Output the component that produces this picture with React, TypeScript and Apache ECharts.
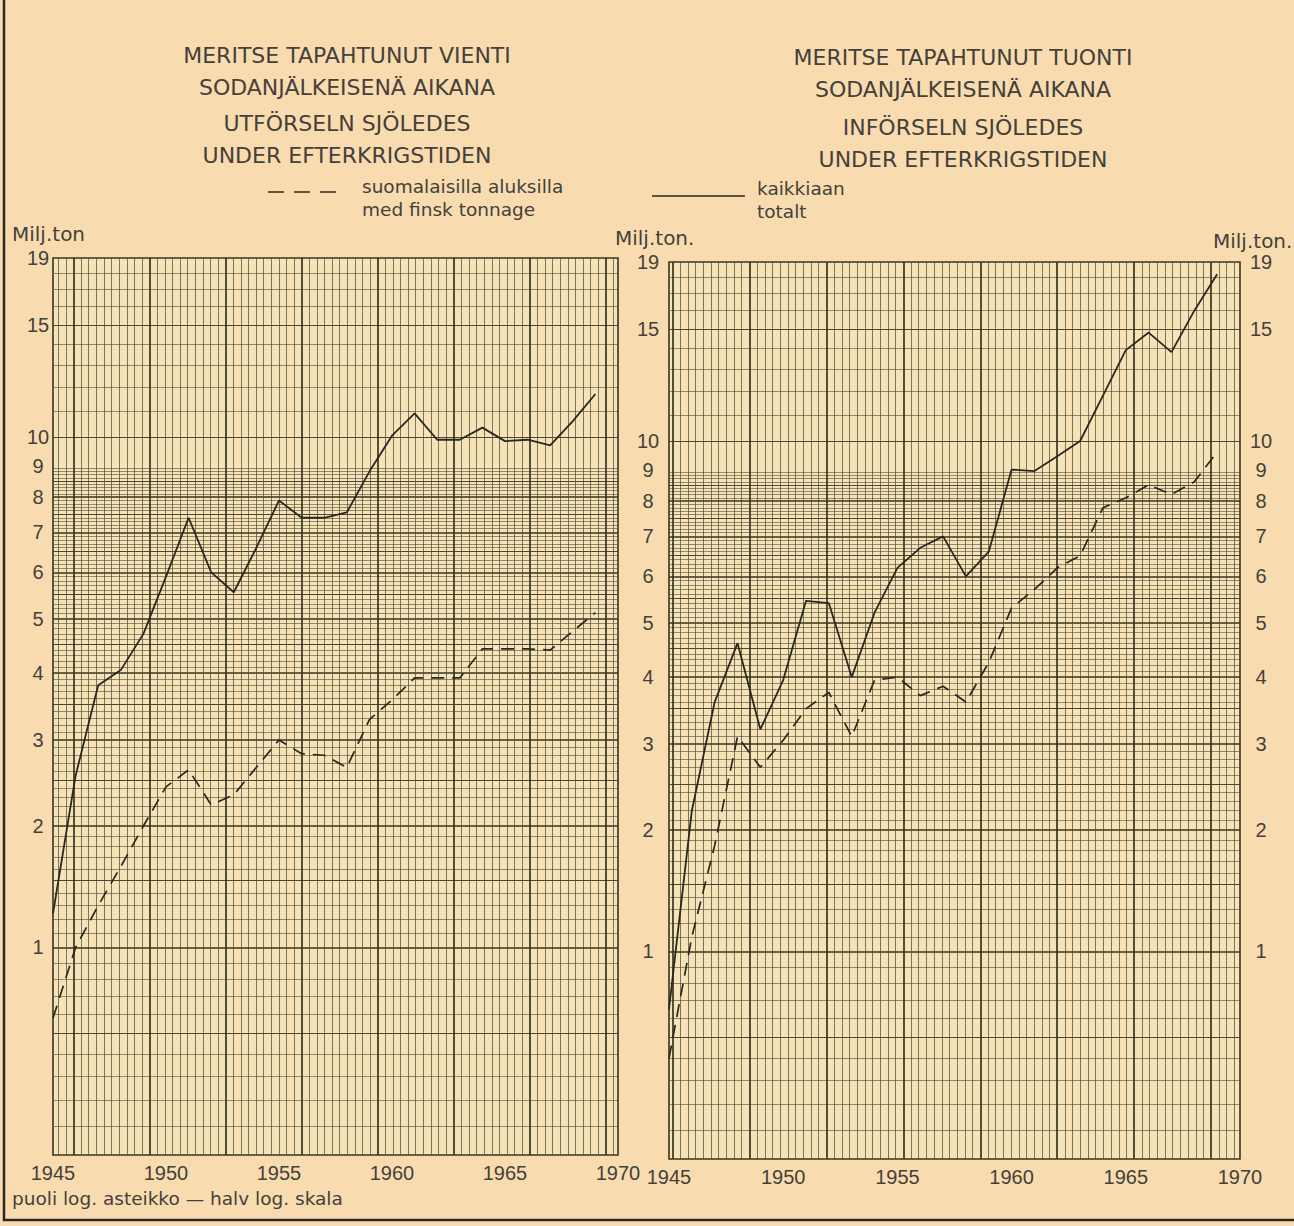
import React, { useEffect, useRef } from "react";
import * as echarts from "echarts";

// ---------- DATA ----------
const YEARS = [1945, 1946, 1947, 1948, 1949, 1950, 1951, 1952, 1953, 1954, 1955, 1956, 1957,
  1958, 1959, 1960, 1961, 1962, 1963, 1964, 1965, 1966, 1967, 1968, 1969];

// Export by sea (Vienti) – total (solid) and Finnish tonnage (dashed), million tons
const EXPORT_TOTAL = [1.24, 2.55, 3.8, 4.05, 4.7, 5.9, 7.4, 6.0, 5.55, 6.6, 7.9, 7.4, 7.4,
  7.55, 8.8, 10.05, 10.9, 9.9, 9.9, 10.35, 9.85, 9.9, 9.7, 10.6, 11.7];
const EXPORT_FINNISH = [0.58, 1.0, 1.3, 1.62, 2.0, 2.42, 2.62, 2.22, 2.33, 2.65, 3.0, 2.82, 2.8,
  2.65, 3.28, 3.57, 3.92, 3.92, 3.92, 4.42, 4.42, 4.42, 4.4, 4.75, 5.12];

// Import by sea (Tuonti)
const IMPORT_TOTAL = [0.65, 2.2, 3.6, 4.6, 3.2, 3.95, 5.45, 5.4, 4.0, 5.2, 6.2, 6.7, 7.0,
  6.0, 6.6, 9.0, 8.95, 9.45, 10.0, 11.8, 13.9, 14.8, 13.8, 16.0, 18.2];
const IMPORT_FINNISH = [0.4, 1.1, 1.85, 3.1, 2.7, 3.05, 3.5, 3.75, 3.1, 3.95, 4.0, 3.7, 3.85,
  3.6, 4.25, 5.3, 5.7, 6.2, 6.5, 7.8, 8.1, 8.5, 8.2, 8.6, 9.6];

const Y_TICK_LABELS = [1, 2, 3, 4, 5, 6, 7, 8, 9, 10, 15, 19];
const X_TICK_LABELS = [1945, 1950, 1955, 1960, 1965, 1970];
const Y_TOP = 19;

const TITLE_LEFT = ["MERITSE TAPAHTUNUT VIENTI", "SODANJÄLKEISENÄ AIKANA", "UTFÖRSELN SJÖLEDES", "UNDER EFTERKRIGSTIDEN"];
const TITLE_RIGHT = ["MERITSE TAPAHTUNUT TUONTI", "SODANJÄLKEISENÄ AIKANA", "INFÖRSELN SJÖLEDES", "UNDER EFTERKRIGSTIDEN"];
const LEGEND_FINNISH = ["suomalaisilla aluksilla", "med finsk tonnage"];
const LEGEND_TOTAL = ["kaikkiaan", "totalt"];
const UNIT = "Milj.ton";
const UNIT2 = "Milj.ton.";
const NOTE = "puoli log. asteikko — halv log. skala";

// ---------- helpers (half-log scale: log10(1 + v)) ----------
const tf = (v: number) => Math.log10(1 + v);
const untf = (t: number) => Math.round(Math.pow(10, t) - 1);

// graph-paper rulings (in value units for y, in paper cells for x)
function paperY() {
  const thin: number[] = [];
  const mid: number[] = [];
  const thick: number[] = [];
  for (let k = 1; k < 90; k++) {
    if (k % 10 === 0) thick.push(k / 10);
    else if (k % 5 === 0) mid.push(k / 10);
    else thin.push(k / 10);
  }
  [11, 12, 13, 14, 16, 17, 18].forEach((v) => thin.push(v));
  [10, 15].forEach((v) => mid.push(v));
  return { thin: thin.map(tf), mid: mid.map(tf), thick: thick.map(tf) };
}
function paperX(cells: number, first: number) {
  const thin: number[] = [];
  const thick: number[] = [];
  for (let k = -Math.floor(first); first + k <= cells; k++) {
    const c = +(first + k).toFixed(3);
    if (c <= 0) continue;
    (k % 10 === 0 ? thick : thin).push(c);
  }
  return { thin, thick };
}

const INK = "#2a2720";
const TEXT = "#45403a";
const THIN = "rgba(78,72,50,0.85)";
const MID = "#4b4732";
const THICK = "#37341f";
const NUM_FONT = "Liberation Sans, Arial, sans-serif";
const TXT_FONT = "DejaVu Sans, sans-serif";

export default function App() {
  const ref = useRef<HTMLDivElement>(null);

  useEffect(() => {
    if (!ref.current) return;
    const chart = echarts.init(ref.current, undefined, { renderer: "svg" });

    const py = paperY();
    const panels = [
      { grid: { left: 53, top: 258, width: 565, height: 897 }, cells: 74.3, first: 2.7,
        total: EXPORT_TOTAL, finnish: EXPORT_FINNISH, labelMargin: 15, rightLabels: false },
      { grid: { left: 669, top: 262, width: 571, height: 897 }, cells: 74.2, first: 0.45,
        total: IMPORT_TOTAL, finnish: IMPORT_FINNISH, labelMargin: 21, rightLabels: true },
    ];

    const grids: any[] = [];
    const xAxes: any[] = [];
    const yAxes: any[] = [];
    const series: any[] = [];

    const hiddenAxisBase = (gi: number, min: number, max: number, vals: number[], color: string, width: number) => ({
      gridIndex: gi, type: "value", min, max, show: true, silent: true,
      axisLine: { show: false }, axisLabel: { show: false },
      axisTick: { show: false, customValues: vals },
      splitLine: { show: true, lineStyle: { color, width } },
      minorSplitLine: { show: false },
    });

    panels.forEach((p, gi) => {
      grids.push({ ...p.grid, show: true, backgroundColor: "#f6e4b8", borderColor: THICK, borderWidth: 1.6, containLabel: false });
      const px = paperX(p.cells, p.first);

      const xMain = xAxes.length;
      xAxes.push({
        gridIndex: gi, type: "value", min: 1945, max: 1970, interval: 5,
        axisLine: { show: false }, axisTick: { show: false }, splitLine: { show: false },
        axisLabel: { color: TEXT, fontSize: 20, fontFamily: NUM_FONT, margin: 8, formatter: (v: number) => String(v),
          customValues: X_TICK_LABELS },
      });
      xAxes.push(hiddenAxisBase(gi, 0, p.cells, px.thin, THIN, 0.85));
      xAxes.push(hiddenAxisBase(gi, 0, p.cells, px.thick, THICK, 1.7));

      const yMain = yAxes.length;
      const labelAxis = (position: string) => ({
        gridIndex: gi, type: "value", min: 0, max: tf(Y_TOP), position,
        axisLine: { show: false }, axisTick: { show: false }, splitLine: { show: false },
        axisLabel: {
          customValues: Y_TICK_LABELS.map(tf), formatter: (v: number) => String(untf(v)),
          color: TEXT, fontSize: 20, fontFamily: NUM_FONT, margin: p.labelMargin, align: "center",
          showMinLabel: true, showMaxLabel: true,
        },
      });
      yAxes.push(labelAxis("left"));
      if (p.rightLabels) yAxes.push(labelAxis("right"));
      yAxes.push(hiddenAxisBase(gi, 0, tf(Y_TOP), py.thin, THIN, 0.7));
      yAxes.push(hiddenAxisBase(gi, 0, tf(Y_TOP), py.mid, MID, 1.1));
      yAxes.push(hiddenAxisBase(gi, 0, tf(Y_TOP), py.thick, THICK, 1.7));

      series.push({
        type: "line", xAxisIndex: xMain, yAxisIndex: yMain, showSymbol: false, silent: true,
        data: YEARS.map((yr, i) => [yr, tf(p.total[i])]),
        lineStyle: { color: INK, width: 1.8 }, z: 5,
      });
      series.push({
        type: "line", xAxisIndex: xMain, yAxisIndex: yMain, showSymbol: false, silent: true,
        data: YEARS.map((yr, i) => [yr, tf(p.finnish[i])]),
        lineStyle: { color: INK, width: 1.7, type: [13, 8] }, z: 5,
      });
    });

    const txt = (text: string, x: number, y: number, size: number, align = "left", font = TXT_FONT) => ({
      type: "text", x, y, silent: true,
      style: { text, fill: TEXT, fontSize: size, fontFamily: font, align, verticalAlign: "middle" },
    });

    const graphics: any[] = [];
    const tl = [55, 87, 123, 155];
    const tr = [57, 89, 127, 159];
    TITLE_LEFT.forEach((t, i) => graphics.push(txt(t, 347, tl[i], 22, "center")));
    TITLE_RIGHT.forEach((t, i) => graphics.push(txt(t, 963, tr[i], 22, "center")));
    graphics.push({ type: "line", silent: true, shape: { x1: 268, y1: 192, x2: 346, y2: 192 },
      style: { stroke: INK, lineWidth: 1.6, lineDash: [16, 10] } });
    graphics.push(txt(LEGEND_FINNISH[0], 362, 186, 18.5));
    graphics.push(txt(LEGEND_FINNISH[1], 362, 209, 18.5));
    graphics.push({ type: "line", silent: true, shape: { x1: 652, y1: 196, x2: 745, y2: 196 },
      style: { stroke: INK, lineWidth: 1.6 } });
    graphics.push(txt(LEGEND_TOTAL[0], 757, 188, 18.5));
    graphics.push(txt(LEGEND_TOTAL[1], 757, 211, 18.5));
    graphics.push(txt(UNIT, 12, 234, 20));
    graphics.push(txt(UNIT2, 615, 238, 20));
    graphics.push(txt(UNIT2, 1213, 241, 20));
    graphics.push(txt(NOTE, 12, 1198, 18.5));
    graphics.push({ type: "polyline", silent: true, shape: { points: [[4, 0], [4, 1220], [1294, 1220]] },
      style: { stroke: "#2a2620", lineWidth: 2.5, fill: null } });

    chart.setOption({
      animation: false,
      backgroundColor: "#f8dcb0",
      grid: grids,
      xAxis: xAxes,
      yAxis: yAxes,
      series,
      graphic: graphics,
    });

    return () => chart.dispose();
  }, []);

  return (
    <div
      ref={ref}
      style={{ position: "absolute", left: 0, top: 0, width: 1294, height: 1226 }}
    />
  );
}
